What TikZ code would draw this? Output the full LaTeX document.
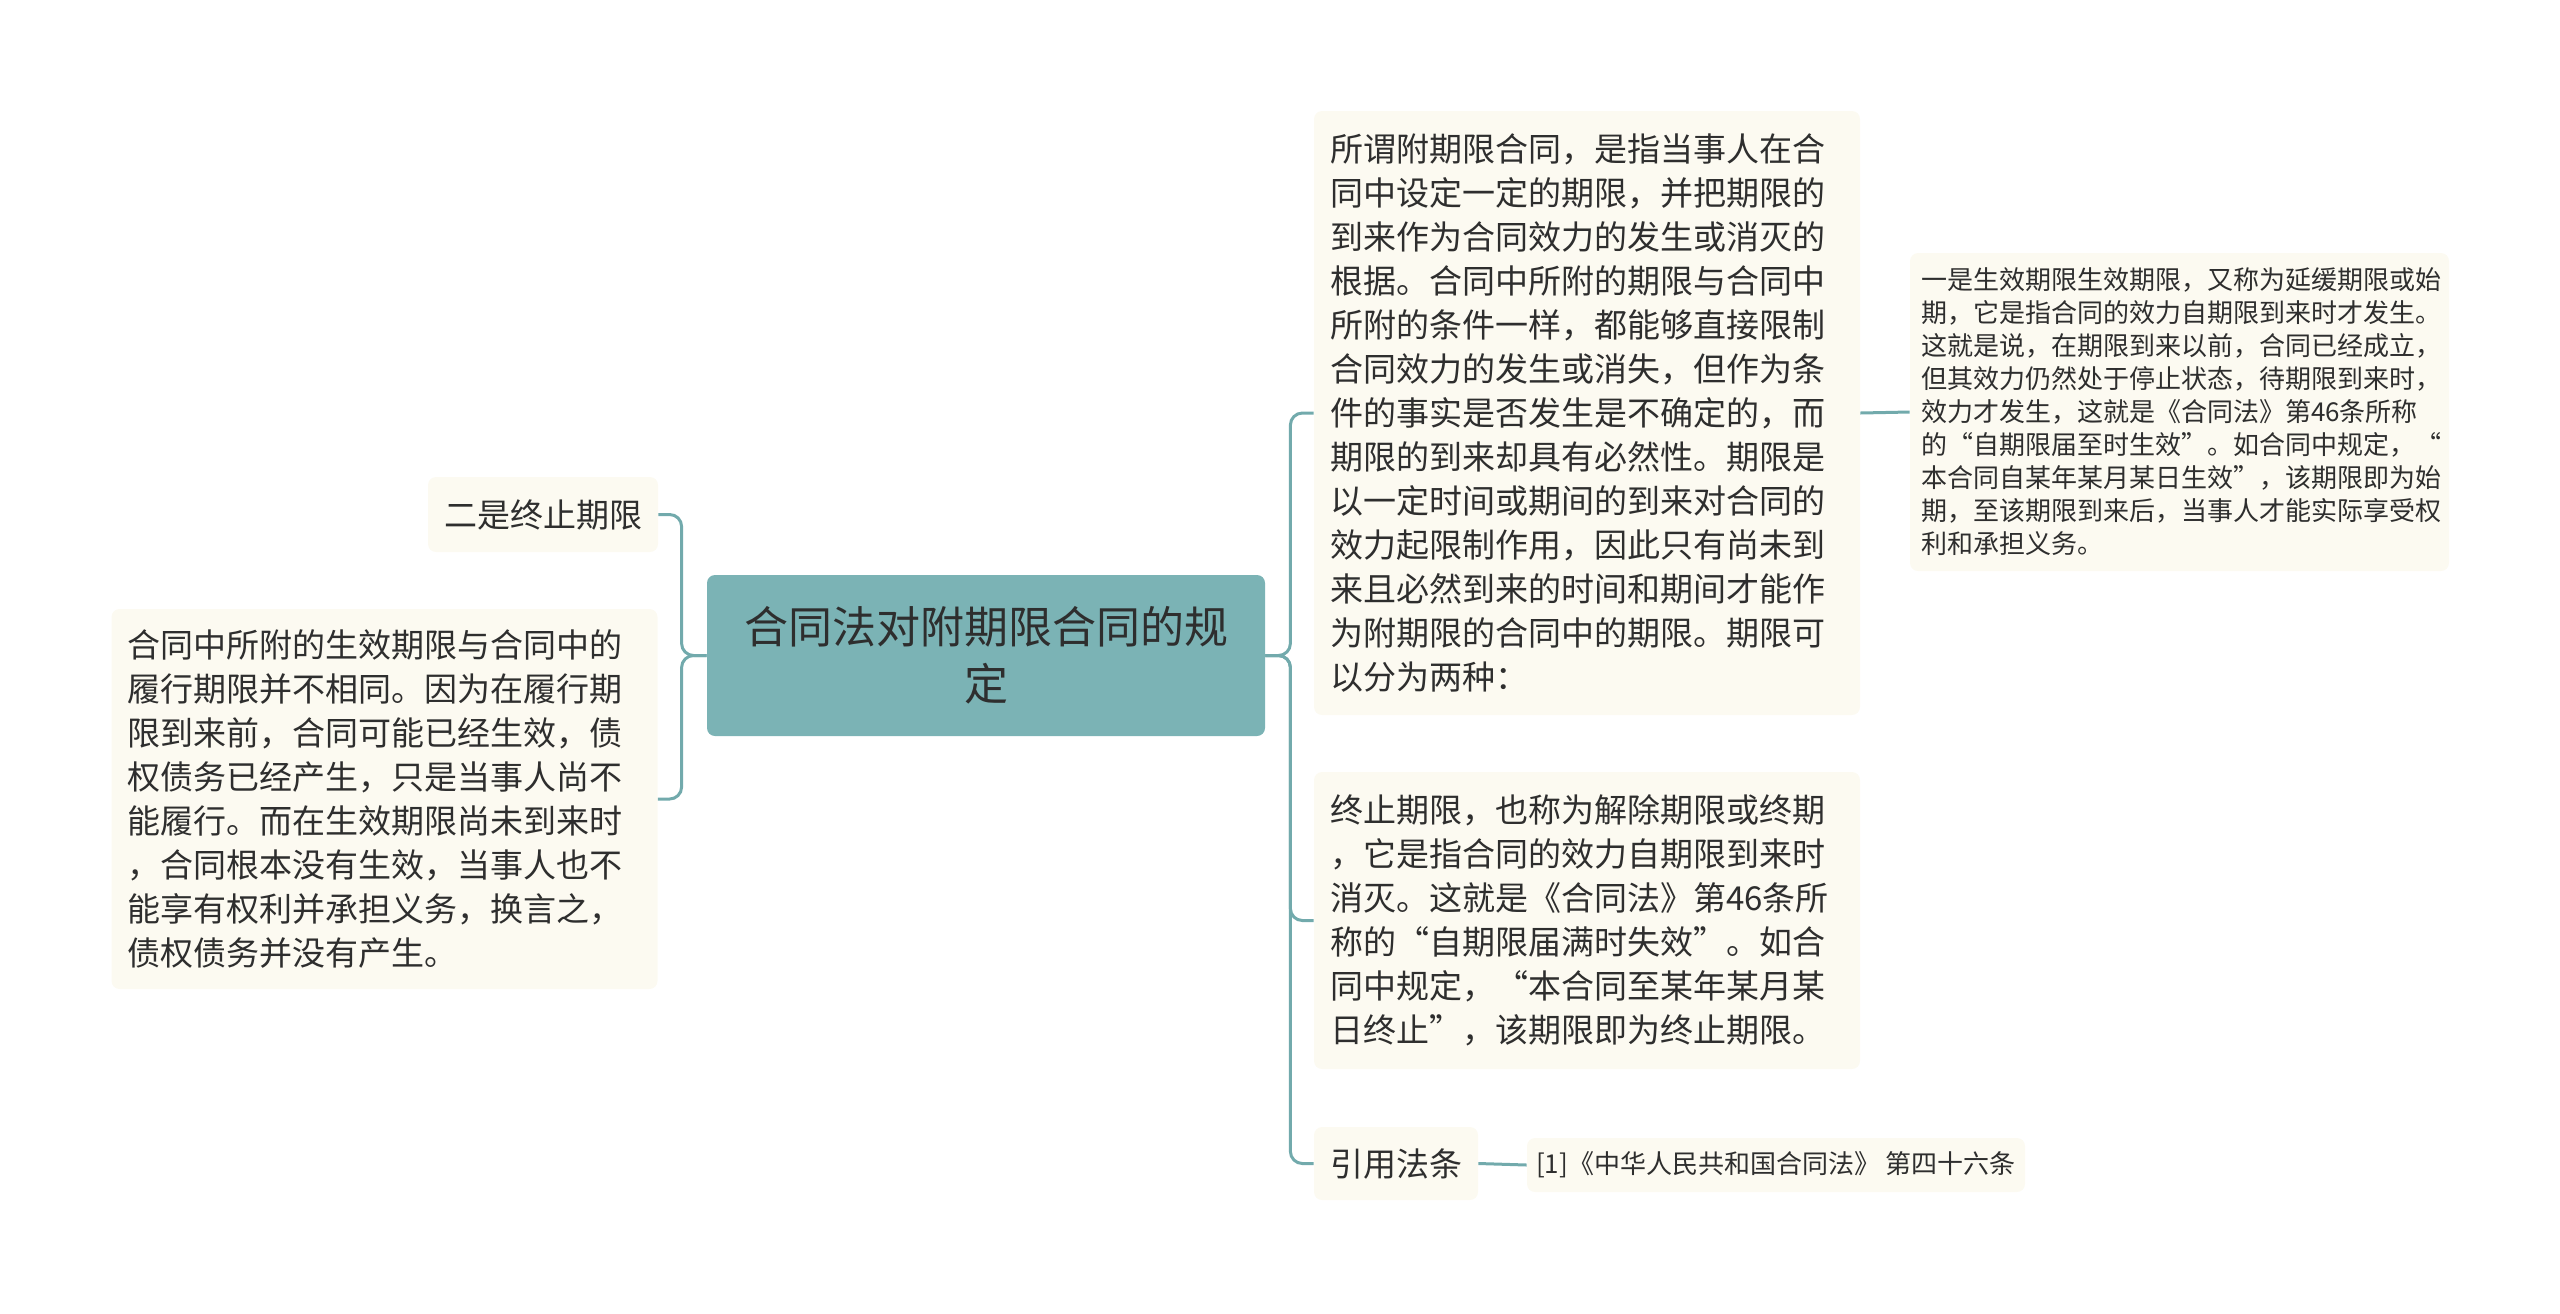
\documentclass[tikz,border=0pt]{standalone}
\usepackage{fontspec}
\setmainfont{Noto Sans CJK SC}
\usepackage{tikz}
\definecolor{mapteal}{HTML}{7BB3B5}
\definecolor{mapline}{HTML}{72AAAC}
\definecolor{mapcream}{HTML}{FCFAF1}
\definecolor{maptext}{HTML}{2E2E2E}
\tikzstyle{topic}=[rounded corners=4pt, fill=mapcream, text=maptext, align=left, inner sep=0pt, font=\fontsize{16.5}{22}\selectfont]
\tikzstyle{text topic}=[topic, inner xsep=8pt, text width=257pt]
\tikzstyle{small topic}=[topic, inner xsep=5.5pt, text width=258.5pt, font=\fontsize{13}{16.5}\selectfont]
\tikzstyle{main topic}=[topic, fill=mapteal, align=center, font=\fontsize{22}{28.5}\selectfont]
\tikzstyle{link}=[draw=mapline, line width=1.5pt, rounded corners=6pt]

\begin{document}
\begin{tikzpicture}[x=0.5pt, y=-0.5pt]
\useasboundingbox (0,0) rectangle (2560,1313);

\node[main topic, minimum width=279pt, minimum height=80.5pt] (root) at (986,655.5)
  {合同法对附期限合同的规\\定};

% left side
\node[topic, minimum width=115pt, minimum height=37.5pt] (stop) at (543,514.5) {二是终止期限};
\node[text topic, minimum height=190pt] (diff) at (384.5,799)
  {合同中所附的生效期限与合同中的\\履行期限并不相同。因为在履行期\\限到来前，合同可能已经生效，债\\权债务已经产生，只是当事人尚不\\能履行。而在生效期限尚未到来时\\，合同根本没有生效，当事人也不\\能享有权利并承担义务，换言之，\\债权债务并没有产生。};

% right side
\node[text topic, minimum height=302pt] (def) at (1587,413)
  {所谓附期限合同，是指当事人在合\\同中设定一定的期限，并把期限的\\到来作为合同效力的发生或消灭的\\根据。合同中所附的期限与合同中\\所附的条件一样，都能够直接限制\\合同效力的发生或消失，但作为条\\件的事实是否发生是不确定的，而\\期限的到来却具有必然性。期限是\\以一定时间或期间的到来对合同的\\效力起限制作用，因此只有尚未到\\来且必然到来的时间和期间才能作\\为附期限的合同中的期限。期限可\\以分为两种：};
\node[text topic, minimum height=148.5pt] (end) at (1587,920.5)
  {终止期限，也称为解除期限或终期\\，它是指合同的效力自期限到来时\\消灭。这就是《合同法》第46条所\\称的“自期限届满时失效”。如合\\同中规定，“本合同至某年某月某\\日终止”，该期限即为终止期限。};
\node[topic, minimum width=82pt, minimum height=36.5pt] (law) at (1396,1163.5) {引用法条};

\node[small topic, minimum height=159pt] (start) at (2179.5,412)
  {一是生效期限生效期限，又称为延缓期限或始\\期，它是指合同的效力自期限到来时才发生。\\这就是说，在期限到来以前，合同已经成立，\\但其效力仍然处于停止状态，待期限到来时，\\效力才发生，这就是《合同法》第46条所称\\的“自期限届至时生效”。如合同中规定，“\\本合同自某年某月某日生效”，该期限即为始\\期，至该期限到来后，当事人才能实际享受权\\利和承担义务。};
\node[topic, font=\fontsize{13}{15}\selectfont, minimum width=249pt, minimum height=27pt] (art) at (1776,1165)
  {[1]《中华人民共和国合同法》 第四十六条};

\draw[link] (root.west) -- ++(-25,0) |- (stop.east);
\draw[link] (root.west) -- ++(-25,0) |- (diff.east);
\draw[link] (root.east) -- ++(25,0) |- (def.west);
\draw[link] (root.east) -- ++(25,0) |- (end.west);
\draw[link] (root.east) -- ++(25,0) |- (law.west);
\draw[link] (def.east) -- (start.west);
\draw[link] (law.east) -- (art.west);
\end{tikzpicture}
\end{document}
